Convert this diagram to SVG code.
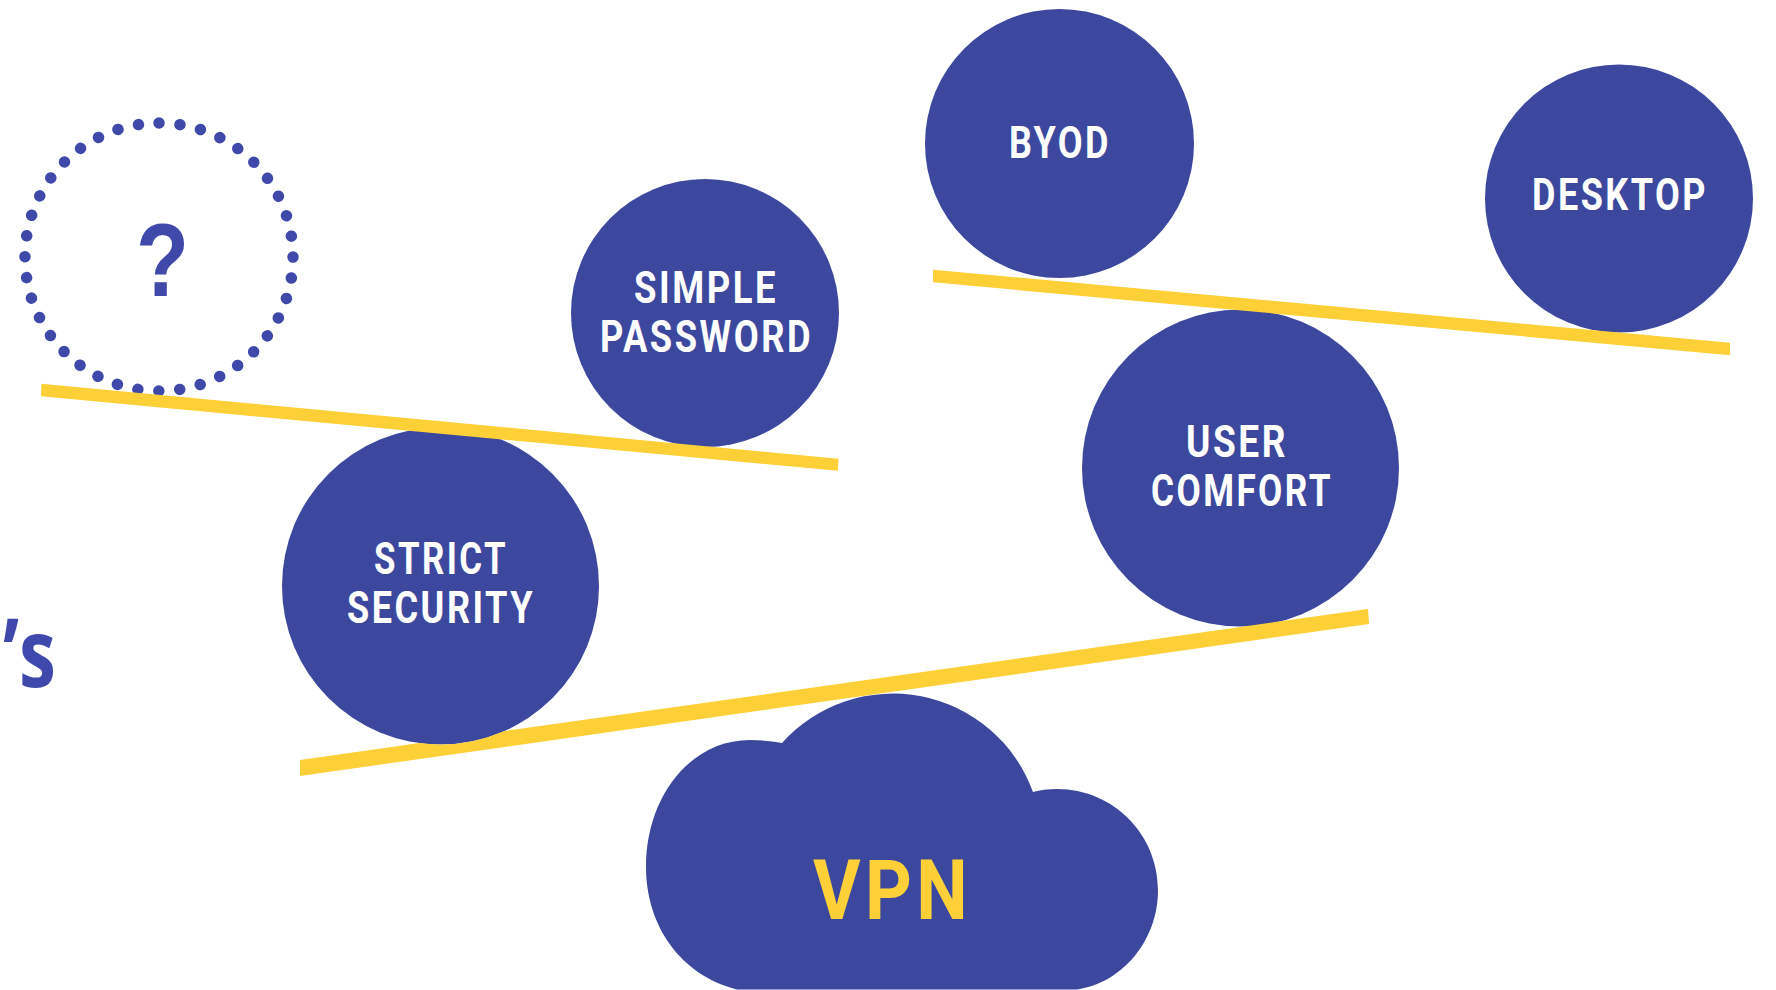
<svg xmlns="http://www.w3.org/2000/svg" width="1776" height="990" viewBox="0 0 1776 990">
<style>
.n{fill:#3c489e}
.b{fill:#fdd037}
text{font-family:Roboto,"Liberation Sans",sans-serif;font-weight:700;font-size:43.5px;letter-spacing:3px}
.w{fill:#fff}
</style>
<rect width="1776" height="990" fill="#fff"/>
<g id="node-unknown">
<circle cx="159" cy="257" r="134" transform="rotate(-90 159 257)" fill="none" stroke="#3f49aa" stroke-width="11.500" stroke-linecap="round" stroke-dasharray="0.01 21.04"/>
<text x="136" y="296" style="font-family:'Liberation Sans',sans-serif;font-weight:700;font-size:103px;letter-spacing:0" fill="#3f49aa" textLength="53" lengthAdjust="spacingAndGlyphs">?</text>
</g>
<g id="node-simple-password">
<circle class="n" cx="705" cy="313" r="134"/>
<text class="w" x="634" y="303" textLength="144" lengthAdjust="spacingAndGlyphs">SIMPLE</text>
<text class="w" x="600" y="352" textLength="213" lengthAdjust="spacingAndGlyphs">PASSWORD</text>
</g>
<g id="node-strict-security">
<circle class="n" cx="440.500" cy="586" r="158.500"/>
<text class="w" x="374" y="574" textLength="134" lengthAdjust="spacingAndGlyphs">STRICT</text>
<text class="w" x="347" y="623" textLength="188" lengthAdjust="spacingAndGlyphs">SECURITY</text>
</g>
<g id="node-byod">
<circle class="n" cx="1059.500" cy="143.500" r="134.500"/>
<text class="w" x="1009" y="158" textLength="102" lengthAdjust="spacingAndGlyphs">BYOD</text>
</g>
<g id="node-desktop">
<circle class="n" cx="1619" cy="198.500" r="134"/>
<text class="w" x="1532" y="210" textLength="176" lengthAdjust="spacingAndGlyphs">DESKTOP</text>
</g>
<g id="node-user-comfort">
<circle class="n" cx="1240.500" cy="468" r="158.500"/>
<text class="w" x="1186" y="457" textLength="102" lengthAdjust="spacingAndGlyphs">USER</text>
<text class="w" x="1151" y="506" textLength="182" lengthAdjust="spacingAndGlyphs">COMFORT</text>
</g>
<g id="node-vpn">
<path class="n" d="M782 743A149 149 0 0 1 1033 792C1040 790 1048 789 1057 789C1113 789 1158 834 1158 890C1158 941 1122 983 1077 989.500L737 989.500C680 975 646 925 646 867C646 797 690 740 750 740Q767 740 782 743Z"/>
<text x="813" y="919" style="font-size:84px;letter-spacing:5px" fill="#fdd037" textLength="159" lengthAdjust="spacingAndGlyphs">VPN</text>
</g>
<text id="fragment" x="3" y="687" style="font-family:'Open Sans',sans-serif;font-weight:700;font-size:95px;letter-spacing:0" fill="#3f49ad" textLength="53" lengthAdjust="spacingAndGlyphs">’s</text>
<g id="connectors">
<path class="b" d="M41.500 383.700L838.500 458.700L838 470.800L41 396.300Z"/>
<path class="b" d="M933 269.700L1730 342.700L1730 355.300L933 282.300Z"/>
<path class="b" d="M300 760L419.400 743.100A158.500 158.500 0 0 0 504.300 731.100L1368 609L1369 624L300 776Z"/>
</g>
</svg>
